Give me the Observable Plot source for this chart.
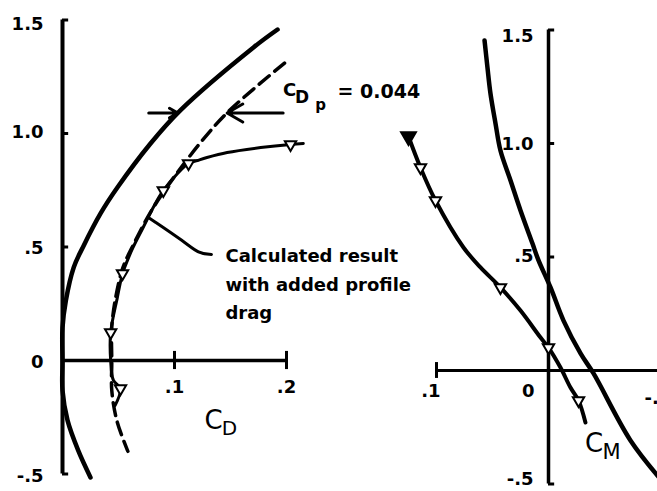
<!DOCTYPE html>
<html>
<head>
<meta charset="utf-8">
<script src="https://cdn.jsdelivr.net/npm/d3@7"></script>
<script src="https://cdn.jsdelivr.net/npm/@observablehq/plot@0.6"></script>
<style>
  html, body { margin: 0; padding: 0; background: #fff; }
  #chart { position: relative; width: 657px; height: 491px; overflow: hidden; background: #fff; }
  #chart svg { position: absolute; left: 0; top: 0; }
</style>
</head>
<body>
<div id="chart"></div>
<script>
// ---- Drag polar (left panel): C_L against C_D ----
// Polar without profile drag (heavy solid curve)
const polarCD = [0.192, 0.1705, 0.105, 0.0786, 0.049, 0.034, 0.019, 0.010, 0.003, 0.000, 0.000, 0.000, 0.0045, 0.014, 0.025];
const polarCL = [1.458, 1.379, 1.101, 0.956, 0.762, 0.648, 0.507, 0.410, 0.264, 0.145, -0.009, -0.132, -0.264, -0.396, -0.515];
// Added profile drag; the dashed curve is the polar shifted by this amount
const CDp = 0.044;
const dashedCLRange = [-0.40, 1.31];

// Calculated result with added profile drag (thin line with symbols)
const calcCD = [0.215, 0.2036, 0.177, 0.147, 0.129, 0.1205, 0.1125, 0.1027, 0.090, 0.081, 0.072, 0.063, 0.058, 0.0536, 0.049, 0.043, 0.043, 0.0455, 0.0518, 0.047];
const calcCL = [0.956, 0.952, 0.938, 0.916, 0.894, 0.881, 0.868, 0.824, 0.749, 0.674, 0.586, 0.498, 0.441, 0.383, 0.278, 0.123, 0.000, -0.088, -0.123, -0.198];
const calcPointCD = [0.2036, 0.1125, 0.090, 0.0536, 0.043, 0.0518];
const calcPointCL = [0.952, 0.868, 0.749, 0.383, 0.123, -0.123];

// ---- Pitching moment (right panel): C_L against C_M ----
const cmCurveCM = [0.0571, 0.0545, 0.0518, 0.0473, 0.0429, 0.0339, 0.025, 0.0143, 0.0089, -0.0018, -0.0134, -0.0286, -0.0402, -0.0732, -0.102];
const cmCurveCL = [1.454, 1.335, 1.220, 1.088, 0.969, 0.837, 0.705, 0.559, 0.485, 0.366, 0.220, 0.075, -0.013, -0.308, -0.49];
const cmCalcCM = [0.125, 0.1143, 0.1009, 0.0759, 0.0607, 0.0429, 0.025, 0.0071, 0.000, -0.0107, -0.0196, -0.0268, -0.033];
const cmCalcCL = [1.031, 0.894, 0.749, 0.542, 0.454, 0.366, 0.264, 0.145, 0.101, 0.013, -0.075, -0.132, -0.229];
const cmPointCM = [0.1143, 0.1009, 0.0429, 0.000, -0.0268];
const cmPointCL = [0.894, 0.749, 0.366, 0.101, -0.132];

// ---- Axes ----
const clTicks = [1.5, 1.0, 0.5, 0, -0.5];
const clTickLabels = ["1.5", "1.0", ".5", "0", "-.5"];
const cdTicks = [0.1, 0.2];
const cdTickLabels = [".1", ".2"];
const cmTicks = [0.1, 0, -0.1];
const cmTickLabels = [".1", "0", "-.1"];

// ---- Annotations ----
const arrowCL = 1.09;
const arrowTailCD = [0.077, 0.197];
const cdpLabelAt = {x: 0.2027, y: 1.189};
const noteAt = {x: 0.1455, y: 0.522};
const noteText = "Calculated result\nwith added profile\ndrag";
const leaderCD = [0.078, 0.1098, 0.1214, 0.133];
const leaderCL = [0.626, 0.520, 0.471, 0.467];
const cdLabelAt = {x: 0.1348, y: -0.264};
const cmLabelAt = {x: -0.0406, y: -0.3216};

const zip = (xs, ys) => xs.map((x, i) => ({x, y: ys[i]}));
const polar = zip(polarCD, polarCL);
const cdAt = d3.scaleLinear().domain(polarCL).range(polarCD);
const dashed = [
  {x: cdAt(dashedCLRange[1]) + CDp, y: dashedCLRange[1]},
  ...polar.filter(d => d.y < dashedCLRange[1] && d.y > dashedCLRange[0]).map(d => ({x: d.x + CDp, y: d.y})),
  {x: cdAt(dashedCLRange[0]) + CDp, y: dashedCLRange[0]}
];
const curveAtArrow = cdAt(arrowCL);
const arrows = [
  {x1: arrowTailCD[0], x2: curveAtArrow, y: arrowCL},
  {x1: arrowTailCD[1], x2: curveAtArrow + CDp, y: arrowCL}
];

const ink = "#000";
const base = {
  width: 657, height: 491, margin: 0,
  style: {background: "transparent", fontFamily: "'DejaVu Sans', sans-serif", color: ink}
};
const bold = {fill: ink, fontWeight: "bold", fontSize: 18};
const tri = {symbol: "triangle", rotate: 180, r: 4.2, stroke: ink, strokeWidth: 2};

// vertical nudges for the C_L tick labels, one per tick
const leftLabelDy = [4, -1, 1, 2, 2.5];
const rightLabelDy = [6, 1, -1, 0, -5];
const clLabels = (dys, dx, skipZero) => clTicks
  .map((t, i) => (skipZero && t === 0) ? null :
    Plot.text([t], {x: 0, y: d => d, text: () => clTickLabels[i], textAnchor: "end", dx, dy: dys[i], ...bold}))
  .filter(Boolean);

// horizontal nudges for the C_M tick labels
const cmLabelDx = [4, -14, -16];
const cmLabelAnchor = ["end", "end", "start"];
const cmLabelDy = [21, 21, 28];

const left = Plot.plot({
  ...base,
  x: {domain: [0, 0.2], range: [62, 286], axis: null},
  y: {domain: [-0.5, 1.5], range: [473.5, 19.5], axis: null},
  marks: [
    // axes
    Plot.ruleX([0], {y1: -0.5, y2: 1.5, stroke: ink, strokeWidth: 4}),
    Plot.ruleY(clTicks.filter(t => t !== 0), {x1: 0, x2: 0.0055, stroke: ink, strokeWidth: 3}),
    Plot.ruleY([0], {x1: 0, x2: 0.2, stroke: ink, strokeWidth: 3.5}),
    Plot.ruleX(cdTicks, {y1: -0.04, y2: 0.04, stroke: ink, strokeWidth: 3}),
    ...clLabels(leftLabelDy, -19, false),
    Plot.text(cdTicks, {x: d => d, y: 0, text: (d, i) => cdTickLabels[i], dy: 27, ...bold}),
    Plot.text(["C"], {x: cdLabelAt.x, y: cdLabelAt.y, fontSize: 26, fill: ink}),
    Plot.text(["D"], {x: cdLabelAt.x, y: cdLabelAt.y, dx: 16, dy: 8, fontSize: 20, fill: ink}),
    // curves
    Plot.line(polar, {x: "x", y: "y", curve: "catmull-rom", stroke: ink, strokeWidth: 4.5}),
    Plot.line(dashed, {x: "x", y: "y", curve: "catmull-rom", stroke: ink, strokeWidth: 3.5, strokeDasharray: "13,7"}),
    Plot.line(zip(calcCD, calcCL), {x: "x", y: "y", curve: "catmull-rom", stroke: ink, strokeWidth: 3}),
    Plot.dot(zip(calcPointCD, calcPointCL), {x: "x", y: "y", fill: "white", ...tri}),
    // C_Dp spacing arrows and label
    Plot.arrow(arrows, {x1: "x1", x2: "x2", y1: "y", y2: "y", stroke: ink, strokeWidth: 3, headLength: 9}),
    Plot.text(["C"], {x: cdpLabelAt.x, y: cdpLabelAt.y, fontSize: 18, fontWeight: 600, fill: ink}),
    Plot.text(["D"], {x: cdpLabelAt.x, y: cdpLabelAt.y, dx: 12.5, dy: 7, fontSize: 17, fontWeight: 600, fill: ink}),
    Plot.text(["p"], {x: cdpLabelAt.x, y: cdpLabelAt.y, dx: 31, dy: 15, fontSize: 15, fontWeight: 600, fill: ink}),
    Plot.text(["= 0.044"], {x: cdpLabelAt.x, y: cdpLabelAt.y, dx: 48, dy: 1, textAnchor: "start", ...bold, fontSize: 19}),
    // note with leader
    Plot.line(zip(leaderCD, leaderCL), {x: "x", y: "y", curve: "basis", stroke: ink, strokeWidth: 3}),
    Plot.text([noteText], {x: noteAt.x, y: noteAt.y, textAnchor: "start", lineAnchor: "top", lineHeight: 1.58, ...bold})
  ]
});

const right = Plot.plot({
  ...base,
  x: {domain: [0, 0.1], range: [548, 436], axis: null},
  y: {domain: [-0.5, 1.5], range: [483.5, 29.5], axis: null},
  marks: [
    Plot.ruleX([0], {y1: -0.5, y2: 1.5, stroke: ink, strokeWidth: 3.5}),
    Plot.ruleY(clTicks.filter(t => t !== 0), {x1: 0, x2: -0.0055, stroke: ink, strokeWidth: 3}),
    Plot.ruleY([0], {x1: 0.1, x2: -0.11, stroke: ink, strokeWidth: 3}),
    Plot.ruleX([0.1], {y1: -0.035, y2: 0.035, stroke: ink, strokeWidth: 3}),
    ...clLabels(rightLabelDy, -15, true),
    ...cmTicks.map((t, i) => Plot.text([t], {x: d => d, y: 0, text: () => cmTickLabels[i],
      textAnchor: cmLabelAnchor[i], dx: cmLabelDx[i], dy: cmLabelDy[i], ...bold})),
    Plot.text(["C"], {x: cmLabelAt.x, y: cmLabelAt.y, fontSize: 26, fill: ink}),
    Plot.text(["M"], {x: cmLabelAt.x, y: cmLabelAt.y, dx: 17.5, dy: 8.5, fontSize: 21, fill: ink}),
    Plot.line(zip(cmCurveCM, cmCurveCL), {x: "x", y: "y", curve: "catmull-rom", stroke: ink, strokeWidth: 4.5}),
    Plot.line(zip(cmCalcCM, cmCalcCL), {x: "x", y: "y", curve: "catmull-rom", stroke: ink, strokeWidth: 4}),
    Plot.dot([{x: cmCalcCM[0], y: cmCalcCL[0]}], {x: "x", y: "y", fill: ink, ...tri, r: 5.5}),
    Plot.dot(zip(cmPointCM, cmPointCL), {x: "x", y: "y", fill: "white", ...tri})
  ]
});

const chart = document.getElementById("chart");
chart.append(left, right);
</script>
</body>
</html>
